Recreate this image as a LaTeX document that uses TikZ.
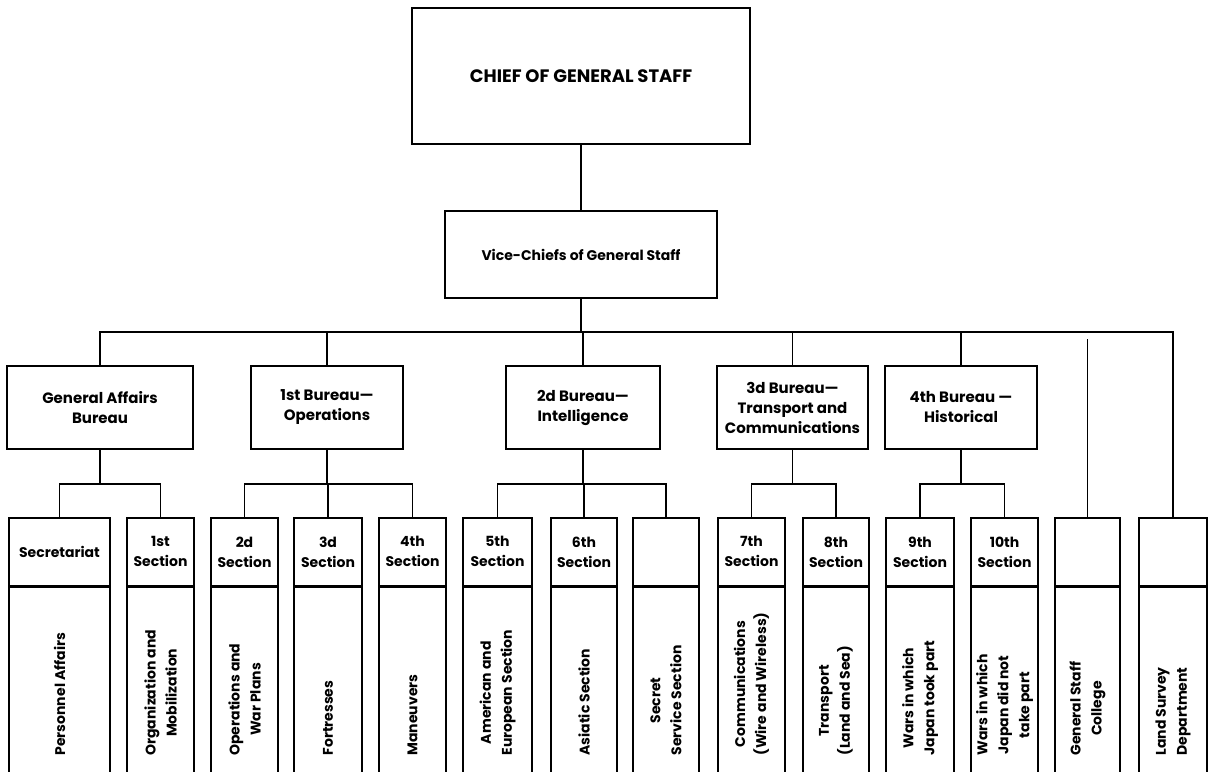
\documentclass[tikz,border=0pt]{standalone}
\usepackage{fontspec}
\setmainfont{Poppins}
\usetikzlibrary{calc}

\begin{document}
\begin{tikzpicture}[x=1pt,y=-1pt,line width=1.7pt,
  every node/.style={font=\bfseries\fontsize{14}{20}\selectfont,align=center},
  box/.style={draw,inner sep=0pt},
  bureau/.style={box,minimum height=83pt,font=\bfseries\fontsize{15}{20}\selectfont},
  head/.style={box,anchor=north,minimum height=68pt},
  body/.style={box,anchor=north,minimum height=185pt},
  vtext/.style={rotate=90,anchor=west,inner sep=0pt,font=\bfseries\fontsize{14}{21}\selectfont}]
  \useasboundingbox (0,0) rectangle (1212,771);
  \node[box,minimum width=338pt,minimum height=136pt,font=\bfseries\fontsize{18}{20}\selectfont]
    (cgs) at (581,76) {CHIEF OF GENERAL STAFF};
  \node[box,minimum width=272pt,minimum height=87pt] (vcgs) at (581,254.5) {Vice-Chiefs of General Staff};
  %
  \node[bureau,minimum width=186pt] (ga) at (100,407.5) {General Affairs\\Bureau};
  \node[bureau,minimum width=152pt] (op) at (327,407.5) {1st Bureau—\\Operations};
  \node[bureau,minimum width=154pt] (in) at (583,407.5) {2d Bureau—\\Intelligence};
  \node[bureau,minimum width=151pt] (tc) at (792.5,407.5) {3d Bureau—\\Transport and\\Communications};
  \node[bureau,minimum width=152pt] (hi) at (961,407.5) {4th Bureau —\\Historical};
  %
  \foreach \x/\w/\n/\hd/\bd in {
      59.5/101/sa/Secretariat/Personnel Affairs,
      160.5/67/s1/1st\\Section/Organization and\\Mobilization,
      244.5/67/s2/2d\\Section/Operations and\\War Plans,
      328/68/s3/3d\\Section/Fortresses,
      412.5/67/s4/4th\\Section/Maneuvers,
      497.5/69/s5/5th\\Section/American and\\European Section,
      584/66/s6/6th\\Section/Asiatic Section,
      666/66/sx//Secret\\Service Section,
      751.5/67/s7/7th\\Section/Communications\\(Wire and Wireless),
      836/66/s8/8th\\Section/Transport\\(Land and Sea),
      920/68/s9/9th\\Section/Wars in which\\Japan took part,
      1004.5/67/s10/10th\\Section/Wars in which\\Japan did not\\take part,
      1087.5/65/gc//General Staff\\College,
      1173/68/ls//Land Survey\\Department}{
    \node[head,minimum width=\w pt] (h\n) at (\x,517) {\hd};
    \node[body,minimum width=\w pt] (b\n) at (h\n.south) {};
    \node[vtext] at ([yshift=17pt]b\n.south) {\bd};
  }
  %
  \draw (cgs) -- (vcgs);
  \draw (vcgs.south) -- (vcgs.south |- 0,332);
  \draw (ga.north) |- (hls.north |- 0,332) -- (hls.north);
  \draw (op.north) -- (op.north |- 0,332);
  \draw (in.north) -- (in.north |- 0,332);
  \draw (tc.north) -- (tc.north |- 0,332);
  \draw (hi.north) -- (hi.north |- 0,332);
  \draw (hgc.north) -- (hgc.north |- 0,339);
  %
  \draw (ga.south) -- (ga.south |- 0,484);
  \draw (hsa.north) |- (hs1.north |- 0,484) -- (hs1.north);
  \draw (op.south) -- (op.south |- 0,484);
  \draw (hs2.north) |- (hs4.north |- 0,484) -- (hs4.north);
  \draw (hs3.north) -- (hs3.north |- 0,484);
  \draw (in.south) -- (in.south |- 0,484);
  \draw (hs5.north) |- (hsx.north |- 0,484) -- (hsx.north);
  \draw (hs6.north) -- (hs6.north |- 0,484);
  \draw (tc.south) -- (tc.south |- 0,484);
  \draw (hs7.north) |- (hs8.north |- 0,484) -- (hs8.north);
  \draw (hi.south) -- (hi.south |- 0,484);
  \draw (hs9.north) |- (hs10.north |- 0,484) -- (hs10.north);
\end{tikzpicture}
\end{document}
